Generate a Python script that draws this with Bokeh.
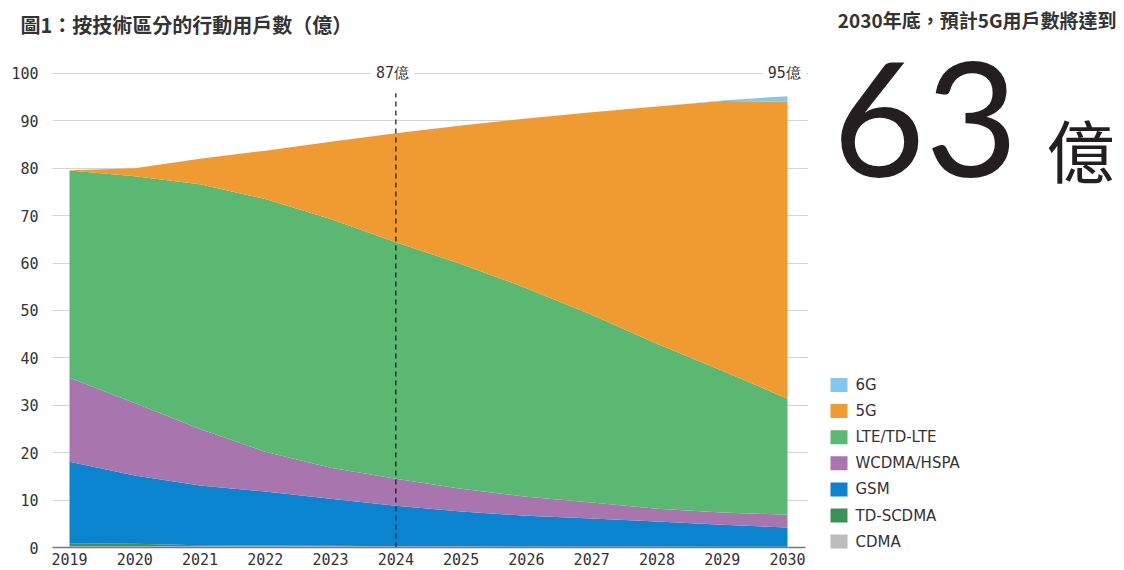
from bokeh.plotting import figure
from bokeh.layouts import column, row
from bokeh.models import ColumnDataSource, FixedTicker, Label, Range1d, Title
from bokeh.core.properties import value
from bokeh.embed import file_html
from bokeh.resources import INLINE

# ---- data (億) ----
years = list(range(2019, 2031))
cdma = [0.3, 0.3, 0.3, 0.3, 0.3, 0.25, 0.25, 0.2, 0.2, 0.2, 0.15, 0.15]
td_scdma = [0.6, 0.5, 0.2, 0.1, 0.05, 0.0, 0.0, 0.0, 0.0, 0.0, 0.0, 0.0]
gsm = [17.2, 14.4, 12.6, 11.4, 9.95, 8.55, 7.35, 6.5, 5.9, 5.3, 4.65, 4.05]
wcdma = [17.7, 15.3, 11.9, 8.4, 6.5, 5.7, 4.8, 4.0, 3.4, 2.7, 2.6, 2.7]
lte = [43.7, 47.8, 51.6, 53.3, 52.5, 49.9, 47.4, 44.0, 39.6, 34.8, 29.9, 24.5]
g5 = [0.1, 1.7, 5.4, 10.2, 16.3, 23.0, 29.2, 35.8, 42.7, 50.0, 56.9, 62.6]
g6 = [0, 0, 0, 0, 0, 0, 0, 0, 0, 0, 0.1, 1.2]

series_names = ["CDMA", "TD-SCDMA", "GSM", "WCDMA/HSPA", "LTE/TD-LTE", "5G", "6G"]
series_colors = ["#bcbcbc", "#3b9257", "#0a84cf", "#a875ae", "#5ab872", "#f09a32", "#82c8ec"]
y_ticks = [0, 10, 20, 30, 40, 50, 60, 70, 80, 90, 100]

marker_years = [2024, 2030]
marker_labels = ["87億", "95億"]
marker_top = 95.8

title_text = "圖1：按技術區分的行動用戶數（億）"
side_header = "2030年底，預計5G用戶數將達到"
side_number = "63"
side_unit = "億"

TEXT = "#333333"

# ---------------- main chart ----------------
p = figure(width=815, height=570, output_backend="svg", toolbar_location=None,
           x_range=Range1d(2018.7395, 2030.3217), y_range=Range1d(0, 105.68),
           min_border_left=52, min_border_right=7, min_border_top=45, min_border_bottom=23)
p.outline_line_color = None
p.title = Title(text=title_text, align="left", offset=-32, standoff=15,
                text_font="Noto Sans CJK TC", text_font_style="bold",
                text_font_size="20px", text_color=TEXT)

src = ColumnDataSource(dict(year=years, **{
    "CDMA": cdma, "TD-SCDMA": td_scdma, "GSM": gsm, "WCDMA/HSPA": wcdma,
    "LTE/TD-LTE": lte, "5G": g5, "6G": g6}))
p.varea_stack(stackers=series_names, x="year", color=series_colors, source=src)

p.segment(x0=marker_years[:1], y0=[0], x1=marker_years[:1], y1=[marker_top],
          line_color="#111111", line_width=1.2, line_dash="5 4")

p.xaxis.ticker = FixedTicker(ticks=years)
p.xaxis.bounds = (2018.7395, 2030.27)
p.xaxis.axis_line_color = "#777777"
p.xaxis.axis_line_width = 1.5
p.xaxis.major_tick_line_color = None
p.xaxis.major_tick_out = 0
p.xaxis.major_tick_in = 0
p.xaxis.minor_tick_line_color = None
p.xaxis.major_label_standoff = 5
p.xaxis.major_label_text_font = "DejaVu Sans Mono"
p.xaxis.major_label_text_font_size = "15px"
p.xaxis.major_label_text_color = TEXT

p.yaxis.ticker = FixedTicker(ticks=y_ticks)
p.yaxis.axis_line_color = None
p.yaxis.major_tick_line_color = None
p.yaxis.major_tick_out = 0
p.yaxis.major_tick_in = 0
p.yaxis.minor_tick_line_color = None
p.yaxis.major_label_standoff = 14
p.yaxis.major_label_text_font = "DejaVu Sans Mono"
p.yaxis.major_label_text_font_size = "15px"
p.yaxis.major_label_text_color = TEXT

p.xgrid.grid_line_color = None
p.ygrid.ticker = FixedTicker(ticks=y_ticks)
p.ygrid.grid_line_color = "#d4d4d4"

for yr, txt in zip(marker_years, marker_labels):
    p.add_layout(Label(x=yr - 0.05, y=100, text=txt, text_align="center", text_baseline="middle",
                       text_font="DejaVu Sans Mono", text_font_size="15px", text_color=TEXT,
                       background_fill_color="white", padding=5))

# ---------------- side panel (header, big number, legend), page-pixel coordinates ----------------
side = figure(width=309, height=570, output_backend="svg", toolbar_location=None,
              x_range=Range1d(815, 1124), y_range=Range1d(570, 0),
              x_axis_type=None, y_axis_type=None, min_border=0)
side.outline_line_color = None
side.grid.visible = False

side.text(x=[1116], y=[19], text=[side_header], text_baseline="middle", text_align="right",
          text_font=value("Noto Sans CJK TC"), text_font_style="bold",
          text_font_size="19px", text_color=TEXT)
side.text(x=[832], y=[119], text=[side_number], text_baseline="middle",
          text_font=value("Lato"), text_font_size="160px", text_color="#231f20")
side.text(x=[1046], y=[148], text=[side_unit], text_baseline="middle",
          text_font=value("Noto Sans CJK TC"), text_font_size="68px", text_color="#231f20")

legend_names = series_names[::-1]
legend_colors = series_colors[::-1]
legend_y = [384.5 + 26.1 * i for i in range(len(legend_names))]
side.rect(x=[838.5] * len(legend_names), y=legend_y, width=17, height=14,
          fill_color=legend_colors, line_color=None)
side.text(x=[855] * len(legend_names), y=legend_y, text=legend_names, text_baseline="middle",
          text_font=value("DejaVu Sans"), text_font_size="15px", text_color=TEXT)

layout = row(column(p, spacing=0), side, spacing=0)
open("out.html", "w").write(file_html(layout, INLINE))
